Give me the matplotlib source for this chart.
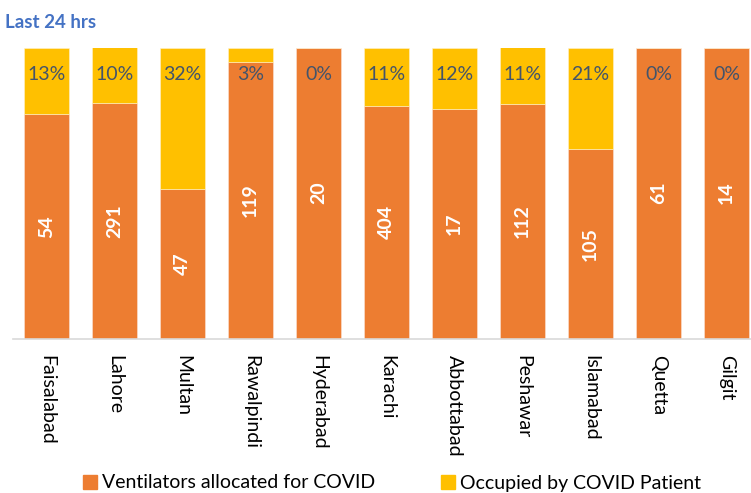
import matplotlib.pyplot as plt
import numpy as np
from matplotlib.patches import Patch

# data
cities = ['Faisalabad', 'Lahore', 'Multan', 'Rawalpindi', 'Hyderabad', 'Karachi',
          'Abbottabad', 'Peshawar', 'Islamabad', 'Quetta', 'Gilgit']
allocated = [54, 291, 47, 119, 20, 404, 17, 112, 105, 61, 14]
occupied_pct = [13, 10, 32, 3, 0, 11, 12, 11, 21, 0, 0]
# share of each bar drawn in yellow (as it appears in the picture)
occupied_share = [0.23, 0.19, 0.485, 0.05, 0.0, 0.20, 0.21, 0.195, 0.35, 0.0, 0.0]

orange = '#ED7D31'
yellow = '#FFC000'

plt.rcParams['font.family'] = ['Lato', 'DejaVu Sans']

fig = plt.figure(figsize=(7.51, 4.93), dpi=100)
ax = fig.add_axes([12.5/751, 154.5/493, 748/751, 291/493])

x = np.arange(len(cities))
occ = np.array(occupied_share)
alloc_share = 1 - occ

ax.bar(x, alloc_share, width=0.667, color=orange, edgecolor='#FBE3D6', linewidth=0.4)
ax.bar(x, occ, bottom=alloc_share, width=0.667, color=yellow, edgecolor='#FFF2CC', linewidth=0.4)

for i in range(len(cities)):
    ax.text(x[i], alloc_share[i] / 2, str(allocated[i]), rotation=90, ha='center', va='center',
            color='white', fontsize=14, fontweight='bold')
    ax.text(x[i], 0.907, f'{occupied_pct[i]}%', ha='center', va='center',
            color='#44546A', fontsize=14)

ax.set_xlim(-0.5, len(cities) - 0.5)
ax.set_ylim(0, 1)
ax.set_yticks([])
ax.set_xticks(x)
ax.set_xticklabels(cities, rotation=-90, fontsize=14, va='top', ha='center')
ax.tick_params(axis='x', length=0, pad=12)
for s in ['top', 'right', 'left']:
    ax.spines[s].set_visible(False)
ax.spines['bottom'].set_color('#D9D9D9')
ax.spines['bottom'].set_linewidth(1.2)

fig.text(5/751, 1 - 22/493, 'Last 24 hrs', color='#4472C4', fontsize=13.5,
         fontweight='bold', va='center', ha='left')

handles = [Patch(color=orange, label='Ventilators allocated for COVID'),
           Patch(color=yellow, label='Occupied by COVID Patient')]
fig.legend(handles=handles, loc='center', bbox_to_anchor=(392/751, 10/493), ncol=2,
           frameon=False, fontsize=14, handlelength=0.7, handleheight=0.7,
           handletextpad=0.25, columnspacing=3.4, borderpad=0)

fig.savefig('out.png', dpi=100)
